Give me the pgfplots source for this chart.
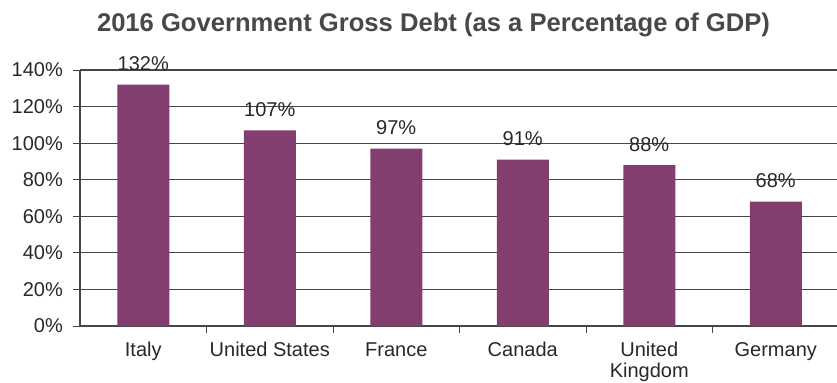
\documentclass[border=0pt]{standalone}
\usepackage{pgfplots}
\pgfplotsset{compat=1.18}
\usepackage{fontspec}
\setmainfont{Liberation Sans}
\definecolor{barc}{RGB}{130,62,110}
\definecolor{txt}{RGB}{40,40,40}
\definecolor{gridc}{RGB}{70,70,70}
\begin{document}
\begin{tikzpicture}[x=1bp,y=1bp]
\path[use as bounding box] (0,0) rectangle (837,382);
\node[anchor=base, inner sep=0pt, font=\fontsize{25.6bp}{30bp}\selectfont\bfseries, text=txt!85] at (433.5,351) {2016 Government Gross Debt (as a Percentage of GDP)};
\begin{axis}[
  at={(80bp,56bp)}, anchor=south west,
  scale only axis, width=759bp, height=256bp,
  /pgf/number format/assume math mode=true,
  ymin=0, ymax=140, ytick={0,20,...,140},
  yticklabel={\pgfmathprintnumber{\tick}\%},
  xmin=-0.5, xmax=5.5,
  xtick={0,1,2,3,4,5},
  xticklabels={\strut Italy,\strut United States,\strut France,\strut Canada,\strut United\\Kingdom,\strut Germany},
  axis x line=bottom, axis y line=left,
  axis line style={-, draw=gridc, line width=1.1bp},
  ymajorgrids, grid style={draw=gridc, line width=1.1bp},
  tick align=outside, major tick length=7bp,
  ytick style={draw=gridc, line width=0.8bp},
  xtick style={draw=none},
  extra x ticks={0.5,1.5,2.5,3.5,4.5},
  extra x tick labels={},
  extra x tick style={grid=none, xtick style={draw=gridc, line width=0.8bp}},
  ticklabel style={font=\fontsize{20bp}{21bp}\selectfont, text=txt},
  yticklabel style={anchor=east, inner sep=0pt, xshift=-10bp},
  xticklabel style={anchor=north, inner sep=0pt, align=center, yshift=-8.3bp},
  ybar, bar width=52bp, bar shift=0pt,
  nodes near coords={\pgfmathprintnumber{\pgfplotspointmeta}\%},
  every node near coord/.append style={anchor=base, inner sep=0pt, yshift=14bp, font=\fontsize{20bp}{22bp}\selectfont, text=txt},
  clip=false,
]
\addplot[fill=barc, draw=none] coordinates {(0,132) (1,107) (2,97) (3,91) (4,88) (5,68)};
\end{axis}
\end{tikzpicture}
\end{document}
